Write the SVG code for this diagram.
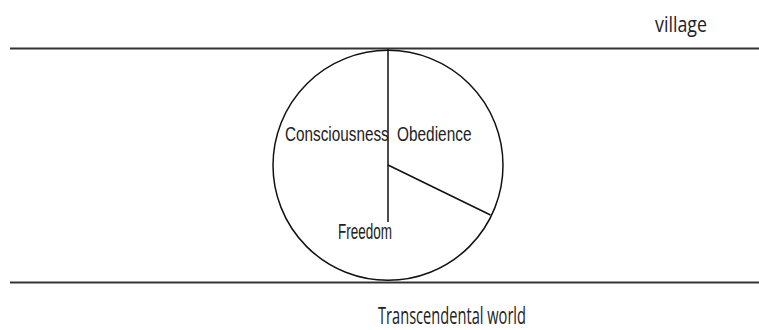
<svg xmlns="http://www.w3.org/2000/svg" width="759" height="330" viewBox="0 0 759 330">
<style>
.band{stroke:#333;stroke-width:2;fill:none}
.ln{stroke:#111;stroke-width:1.5;fill:none}
.lbl{font-family:"Liberation Sans",Arial,sans-serif;fill:#222}
.cap{font-family:"Open Sans","DejaVu Sans",sans-serif;fill:#222}
</style>
<rect width="759" height="330" fill="#fff"/>
<g id="bands">
<line class="band" x1="10" y1="48.5" x2="759" y2="48.5"/>
<line class="band" x1="10" y1="282.5" x2="759" y2="282.5"/>
</g>
<g id="village"><text class="cap" x="655" y="32" font-size="21" textLength="52" lengthAdjust="spacingAndGlyphs">village</text></g>
<g id="transcendental"><text class="cap" x="378" y="324" font-size="23" textLength="148" lengthAdjust="spacingAndGlyphs">Transcendental world</text></g>
<g id="circle"><circle class="ln" cx="388" cy="165.3" r="115"/></g>
<g id="connectors">
<line class="ln" x1="388" y1="49" x2="388" y2="222"/>
<line class="ln" x1="388" y1="165" x2="490.5" y2="215"/>
</g>
<g id="consciousness"><text class="lbl" transform="translate(285,141) scale(1,1.3)" font-size="15.3">Consciousness</text></g>
<g id="obedience"><text class="lbl" transform="translate(397,141) scale(1,1.3)" font-size="15.4">Obedience</text></g>
<g id="freedom"><text class="lbl" transform="translate(338,239) scale(1,1.6)" font-size="13.5">Freedom</text></g>
</svg>
